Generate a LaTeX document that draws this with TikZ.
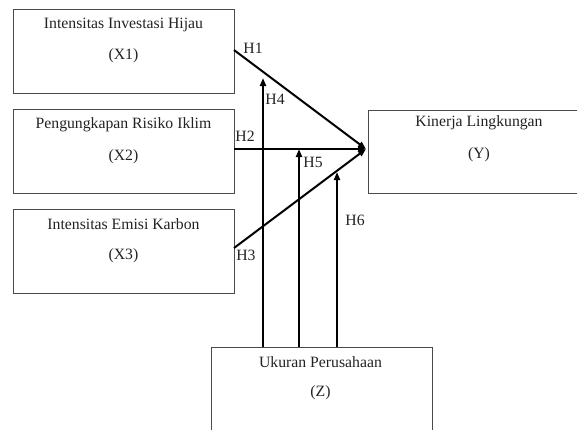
\documentclass[tikz,border=0pt]{standalone}
\usepackage{fontspec}
\setmainfont{Liberation Serif}
\usetikzlibrary{arrows.meta}
\definecolor{boxc}{HTML}{4A4A4A}
\definecolor{txtc}{HTML}{222222}
\begin{document}
\begin{tikzpicture}[x=0.75pt,y=-0.75pt,
  box/.style={draw=boxc,line width=1.1pt,rectangle,anchor=north west,inner sep=0pt},
  lbl/.style={text=txtc,font=\fontsize{11.8}{14}\selectfont,inner sep=0pt},
  hl/.style={text=txtc,font=\fontsize{11.8}{14}\selectfont,inner sep=0pt},
  conn/.style={line width=1.5pt,black},
  arr/.style={conn,-{Triangle[length=6pt,width=4.5pt]}}]
\useasboundingbox (0,0) rectangle (577,429);
\clip (0,0) rectangle (577,429);
% boxes
\node[box,minimum width=165.75pt,minimum height=63pt] (x1) at (13,9) {};
\node[box,minimum width=165.75pt,minimum height=63pt] (x2) at (13,109) {};
\node[box,minimum width=165.75pt,minimum height=63pt] (x3) at (13,209) {};
\node[box,minimum width=165pt,minimum height=62.25pt] (yb) at (368,110) {};
\node[box,minimum width=165.75pt,minimum height=75pt] (zb) at (211,347) {};
% texts
\node[lbl] (t1) at (123.5,25) {Intensitas Investasi Hijau};
\node[lbl] (v1) at (123.5,56) {(X1)};
\node[lbl] (t2) at (123.5,125) {Pengungkapan Risiko Iklim};
\node[lbl] (v2) at (123.5,157) {(X2)};
\node[lbl] (t3) at (123.5,224) {Intensitas Emisi Karbon};
\node[lbl] (v3) at (123.5,256) {(X3)};
\node[lbl] (ty) at (479,123) {Kinerja Lingkungan};
\node[lbl] (vy) at (479,155) {(Y)};
\node[lbl] (tz) at (320.5,362) {Ukuran Perusahaan};
\node[lbl] (vz) at (320.5,393) {(Z)};
% coordinates
\coordinate (tgt) at (366,149);
\coordinate (s1) at (234,50);
\coordinate (s2) at (234,149);
\coordinate (s3) at (234,248);
\coordinate (e4) at (263,78);
\coordinate (e5) at (299,149);
\coordinate (e6) at (337,172);
\coordinate (b4) at (263,347);
\coordinate (b5) at (299,347);
\coordinate (b6) at (337,347);
% main arrows
\draw[arr] (s1) -- (tgt);
\draw[arr] (s2) -- (tgt);
\draw[arr] (s3) -- (tgt);
% moderation arrows
\draw[arr] (b4) -- (e4);
\draw[arr] (b5) -- (e5);
\draw[arr] (b6) -- (e6);
% labels
\node[hl] (h1) at (253,48) {H1};
\node[hl] (h4) at (275,99) {H4};
\node[hl] (h2) at (245,136) {H2};
\node[hl] (h5) at (313,162) {H5};
\node[hl] (h6) at (355,220) {H6};
\node[hl] (h3) at (246,255) {H3};
\end{tikzpicture}
\end{document}
